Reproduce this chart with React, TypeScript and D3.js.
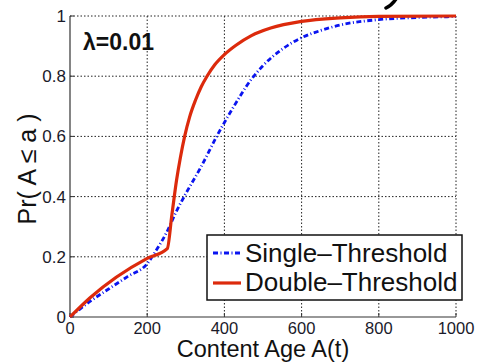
import React from "react";
import * as d3 from "d3";

const xTicks = [0, 200, 400, 600, 800, 1000];
const yTicks = [0, 0.2, 0.4, 0.6, 0.8, 1];
const yTickLabels = ["0", "0.2", "0.4", "0.6", "0.8", "1"];

const singleAge = [0, 50, 100, 150, 200, 225, 250, 276, 300, 340, 380, 420, 470, 500, 550, 600, 650, 700, 800, 900, 1000];
const singleProb = [0, 0.05, 0.093, 0.135, 0.177, 0.225, 0.28, 0.352, 0.41, 0.5, 0.6, 0.69, 0.79, 0.835, 0.89, 0.928, 0.952, 0.97, 0.988, 0.995, 0.998];

const doubleAge = [0, 52, 200, 252, 264, 276, 286, 297, 310, 325, 340, 355, 375, 400, 430, 470, 520, 600, 700, 800, 1000];
const doubleProb = [0, 0.064, 0.195, 0.227, 0.34, 0.454, 0.53, 0.6, 0.665, 0.72, 0.765, 0.8, 0.838, 0.872, 0.903, 0.935, 0.96, 0.982, 0.994, 0.999, 1];

const seriesNames = ["Single\u2013Threshold", "Double\u2013Threshold"];

const W = 477, H = 364;
const L = 70, R = 456, T = 16, B = 317;
const FONT = "'Liberation Sans', Arial, Helvetica, sans-serif";

export default function App() {
  const x = d3.scaleLinear().domain([0, 1000]).range([L, R]);
  const y = d3.scaleLinear().domain([0, 1]).range([B, T]);

  const line = d3
    .line<[number, number]>()
    .x((d) => x(d[0]))
    .y((d) => y(d[1]))
    .curve(d3.curveMonotoneX);

  const singleData = singleAge.map((a, i) => [a, singleProb[i]] as [number, number]);
  const doubleData = doubleAge.map((a, i) => [a, doubleProb[i]] as [number, number]);

  const blue = "#0a14f0";
  const red = "#dc2a0c";

  return (
    <svg width={W} height={H} style={{ position: "absolute", left: 0, top: 0, background: "#fff" }} fontFamily={FONT}>
      <rect x={0} y={0} width={W} height={H} fill="#fff" />
      {/* grid */}
      {xTicks.filter((t) => t > 0).map((t) => (
        <line key={"gx" + t} x1={x(t)} x2={x(t)} y1={T} y2={B} stroke="#222" strokeWidth={1} strokeDasharray="1.5,2" />
      ))}
      {yTicks.filter((t) => t > 0).map((t) => (
        <line key={"gy" + t} x1={L} x2={R} y1={y(t)} y2={y(t)} stroke="#222" strokeWidth={1} strokeDasharray="1.5,2" />
      ))}
      {/* axes */}
      <line x1={L} x2={L} y1={T} y2={B} stroke="#333" strokeWidth={1.2} />
      <line x1={L} x2={R} y1={B} y2={B} stroke="#333" strokeWidth={1.2} />
      {yTicks.map((t) => (
        <line key={"ty" + t} x1={L} x2={L + 4} y1={y(t)} y2={y(t)} stroke="#333" strokeWidth={1} />
      ))}
      {xTicks.map((t) => (
        <line key={"tx" + t} x1={x(t)} x2={x(t)} y1={B} y2={B - 4} stroke="#333" strokeWidth={1} />
      ))}
      {/* tick labels */}
      {yTicks.map((t, i) => (
        <text key={"ly" + t} x={L - 4} y={y(t) + 6} textAnchor="end" fontSize={17} fill="#1a1a2a">
          {yTickLabels[i]}
        </text>
      ))}
      {xTicks.map((t) => (
        <text key={"lx" + t} x={x(t)} y={334} textAnchor="middle" fontSize={16.5} fill="#1a1a2a">
          {t}
        </text>
      ))}
      {/* curves */}
      <path d={line(singleData) || ""} fill="none" stroke={blue} strokeWidth={2.8} strokeDasharray="5,2.5,1,2.5" />
      <path d={line(doubleData) || ""} fill="none" stroke={red} strokeWidth={3.2} strokeLinejoin="round" />
      {/* annotation */}
      <text x={83} y={50} fontSize={23} fontWeight="bold" fill="#111">
        {"\u03bb=0.01"}
      </text>
      {/* axis labels */}
      <text x={(L + R) / 2} y={357} textAnchor="middle" fontSize={23.5} fill="#111">
        Content Age A(t)
      </text>
      <text transform={`translate(36,169) rotate(-90)`} textAnchor="middle" fontSize={25} fill="#111">
        {"Pr( A \u2264 a )"}
      </text>
      {/* legend */}
      <rect x={207} y={235} width={255} height={65} fill="#fff" stroke="#111" strokeWidth={1.5} />
      <line x1={213} x2={241} y1={253} y2={253} stroke={blue} strokeWidth={2.8} strokeDasharray="5,2.5,1,2.5" />
      <line x1={213} x2={241} y1={283} y2={283} stroke={red} strokeWidth={3.2} />
      <text x={245} y={262} fontSize={26} fill="#111">{seriesNames[0]}</text>
      <text x={245} y={291} fontSize={26} fill="#111">{seriesNames[1]}</text>
      {/* stray mark at top edge */}
      <path d="M386,8 Q392,5 396,-1" fill="none" stroke="#000" strokeWidth={3.5} strokeLinecap="round" />
    </svg>
  );
}
